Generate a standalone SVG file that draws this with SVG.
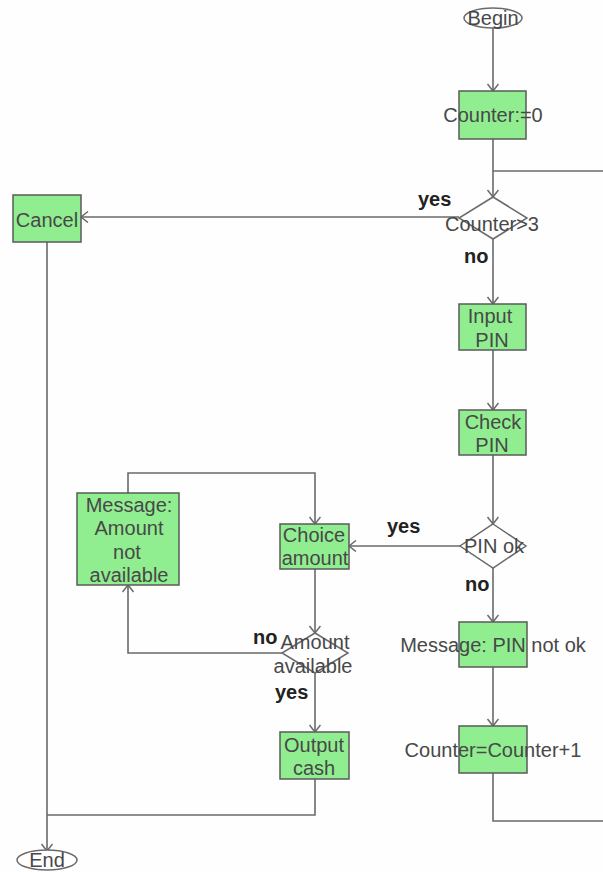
<svg xmlns="http://www.w3.org/2000/svg" width="603" height="872" viewBox="0 0 603 872">
<defs>
<style>
.box{fill:#90ee90;stroke:#5a5a5a;stroke-width:1.5}
.dia{fill:#ffffff;stroke:#6a6a6a;stroke-width:1.5}
.term{fill:#ffffff;stroke:#6a6a6a;stroke-width:1.5}
.ln{fill:none;stroke:#6a6a6a;stroke-width:1.6}
.t{font-family:"Liberation Sans",Arial,sans-serif;font-size:20px;fill:#484848;text-anchor:middle}
.lb{font-family:"Liberation Sans",Arial,sans-serif;font-size:20px;font-weight:bold;fill:#222222}
</style>
<marker id="arr" markerUnits="userSpaceOnUse" markerWidth="14" markerHeight="14" refX="8" refY="6" orient="auto">
<path d="M1,0.5 L8,6 L1,11.5" fill="none" stroke="#6a6a6a" stroke-width="1.5"/>
</marker>
</defs>
<rect x="0" y="0" width="603" height="872" fill="#fdfefd"/>
<g id="connectors">
<path class="ln" d="M493,28 V91" marker-end="url(#arr)"/>
<path class="ln" d="M493,139 V197" marker-end="url(#arr)"/>
<path class="ln" d="M603,171 H493"/>
<path class="ln" d="M459,217 H81" marker-end="url(#arr)"/>
<path class="ln" d="M47,242 V851" marker-end="url(#arr)"/>
<path class="ln" d="M493,239 V304" marker-end="url(#arr)"/>
<path class="ln" d="M493,350 V410" marker-end="url(#arr)"/>
<path class="ln" d="M493,455 V524" marker-end="url(#arr)"/>
<path class="ln" d="M460,546 H349" marker-end="url(#arr)"/>
<path class="ln" d="M493,568 V622" marker-end="url(#arr)"/>
<path class="ln" d="M493,667 V726" marker-end="url(#arr)"/>
<path class="ln" d="M493,773 V821 H603"/>
<path class="ln" d="M128,493 V473 H315 V524" marker-end="url(#arr)"/>
<path class="ln" d="M315,569 V633" marker-end="url(#arr)"/>
<path class="ln" d="M282,653 H128 V585" marker-end="url(#arr)"/>
<path class="ln" d="M315,673 V732" marker-end="url(#arr)"/>
<path class="ln" d="M315,779 V815 H47"/>
</g>
<g id="begin">
<ellipse class="term" cx="493" cy="18" rx="29" ry="10"/>
<text class="t" x="493" y="25">Begin</text>
</g>
<g id="counter0">
<rect class="box" x="459" y="91" width="67" height="48"/>
<text class="t" x="493" y="122">Counter:=0</text>
</g>
<g id="counter3">
<polygon class="dia" points="493,197 527,218 493,239 459,218"/>
<text class="t" x="492" y="231">Counter&gt;3</text>
</g>
<g id="cancel">
<rect class="box" x="13" y="195" width="68" height="47"/>
<text class="t" x="47" y="227">Cancel</text>
</g>
<g id="inputpin">
<rect class="box" x="459" y="304" width="67" height="46"/>
<text class="t" x="490" y="323">Input</text>
<text class="t" x="492" y="347">PIN</text>
</g>
<g id="checkpin">
<rect class="box" x="459" y="410" width="67" height="45"/>
<text class="t" x="493" y="429">Check</text>
<text class="t" x="492" y="452">PIN</text>
</g>
<g id="pinok">
<polygon class="dia" points="493,524 526,546 493,568 460,546"/>
<text class="t" x="494" y="553">PIN ok</text>
</g>
<g id="msgpin">
<rect class="box" x="459" y="622" width="68" height="45"/>
<text class="t" x="493" y="652">Message: PIN not ok</text>
</g>
<g id="counterinc">
<rect class="box" x="459" y="726" width="68" height="47"/>
<text class="t" x="493" y="757">Counter=Counter+1</text>
</g>
<g id="choice">
<rect class="box" x="280" y="524" width="69" height="45"/>
<text class="t" x="314" y="542">Choice</text>
<text class="t" x="315" y="565">amount</text>
</g>
<g id="msgamount">
<rect class="box" x="77" y="493" width="102" height="92"/>
<text class="t" x="129" y="512">Message:</text>
<text class="t" x="129" y="535">Amount</text>
<text class="t" x="127" y="559">not</text>
<text class="t" x="129" y="582">available</text>
</g>
<g id="amountavail">
<polygon class="dia" points="315,633 348,653 315,673 282,653"/>
<text class="t" x="315" y="649">Amount</text>
<text class="t" x="313" y="673">available</text>
</g>
<g id="output">
<rect class="box" x="280" y="732" width="69" height="47"/>
<text class="t" x="314" y="752">Output</text>
<text class="t" x="314" y="775">cash</text>
</g>
<g id="end">
<ellipse class="term" cx="47" cy="860" rx="30" ry="10"/>
<text class="t" x="47" y="867">End</text>
</g>
<g id="labels">
<text class="lb" x="418" y="206">yes</text>
<text class="lb" x="464" y="263">no</text>
<text class="lb" x="387" y="533">yes</text>
<text class="lb" x="465" y="591">no</text>
<text class="lb" x="253" y="644">no</text>
<text class="lb" x="275" y="699">yes</text>
</g>
</svg>
